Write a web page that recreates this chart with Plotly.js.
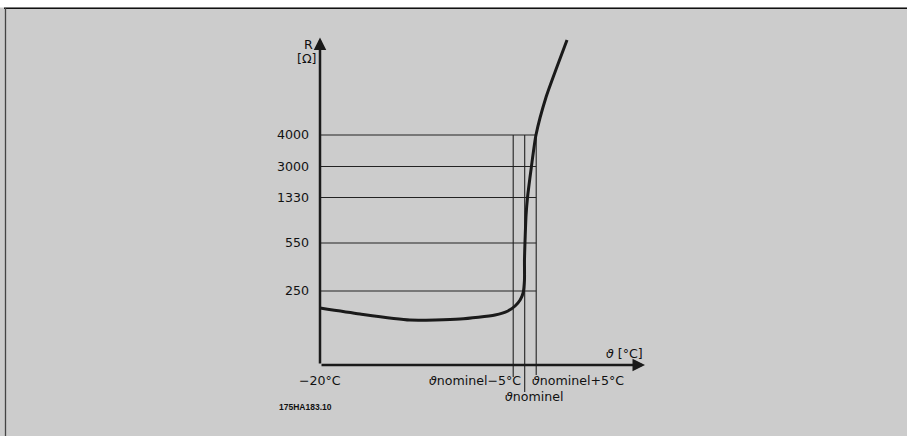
<!DOCTYPE html>
<html>
<head>
<meta charset="utf-8">
<script src="https://cdn.plot.ly/plotly-3.0.1.min.js"></script>
<style>
  html, body { margin: 0; padding: 0; background: #cccccc; }
  #chart { width: 907px; height: 436px; }
</style>
</head>
<body>
<div id="chart"></div>
<script>
// ---- data (schematic PTC thermistor characteristic) ----
const rTickLabels = ['250', '550', '1330', '3000', '4000'];
const rTickLevels = [74, 122, 167.5, 198.5, 230];      // schematic R-axis levels
const tempMin = -20;
const tempNominal = 69;                                 // schematic nominal temperature
const tempDelta = 5;
const tempLabels = ['\u221220\u00b0C', '<i>\u03d1</i>nominel\u22125\u00b0C', '<i>\u03d1</i>nominel', '<i>\u03d1</i>nominel+5\u00b0C'];
const curveTemp  = [-20, -2.6, 19.1, 40.9, 56.1, 61.7, 64.8, 67.0, 68.3, 68.9, 68.9, 69.1, 69.6, 70.2, 71.9, 73.9, 78.3, 83.0, 87.4];
const curveLevel = [57, 51, 45, 46, 50, 54, 59, 65, 72, 85, 105, 121, 150, 167, 198, 230, 268, 298, 325];

// ---- layout geometry ----
const L = 310, R = 257, T = 35, B = 36, W = 907, H = 436;
const PW = W - L - R, PH = H - T - B;
const pxX = p => (p - L) / PW;          // page pixel -> paper x
const pxY = q => (H - B - q) / PH;      // page pixel -> paper y

const xRange = [-24.35, 123.48];
const yRange = [-35, 330];
const xArrowEnd = 121.3, yArrowEnd = 327.5;
const ink = '#111111';
const font = {family: 'DejaVu Sans', size: 12.6, color: ink};

const tMinus = tempNominal - tempDelta, tPlus = tempNominal + tempDelta;
const topLevel = Math.max(...rTickLevels);

// horizontal reference lines
const hx = [], hy = [];
rTickLevels.forEach(v => { hx.push(tempMin, tPlus, null); hy.push(v, v, null); });
// vertical reference lines
const vx = [tMinus, tMinus, null, tempNominal, tempNominal, null, tPlus, tPlus];
const vy = [topLevel, -12, null, topLevel, -27, null, topLevel, -10];

const traces = [
  {x: hx, y: hy, mode: 'lines', line: {color: '#222222', width: 1.1}, hoverinfo: 'skip', showlegend: false},
  {x: vx, y: vy, mode: 'lines', line: {color: '#222222', width: 1.1}, hoverinfo: 'skip', showlegend: false},
  {x: curveTemp, y: curveLevel, mode: 'lines', line: {color: '#1a1a1a', width: 3, shape: 'spline', smoothing: 0.6},
   hoverinfo: 'skip', showlegend: false}
];

const annotations = [
  // axes with arrowheads
  {x: xArrowEnd, y: 0, ax: tempMin, ay: 0, xref: 'x', yref: 'y', axref: 'x', ayref: 'y',
   showarrow: true, arrowhead: 2, arrowsize: 1, arrowwidth: 2.5, arrowcolor: '#1a1a1a', text: '', standoff: 0},
  {x: tempMin, y: yArrowEnd, ax: tempMin, ay: 0, xref: 'x', yref: 'y', axref: 'x', ayref: 'y',
   showarrow: true, arrowhead: 2, arrowsize: 1, arrowwidth: 2.5, arrowcolor: '#1a1a1a', text: '', standoff: 0},
  // axis titles
  {x: tempMin, y: 321, xref: 'x', yref: 'y', text: 'R', showarrow: false, xanchor: 'right', xshift: -5, font: font},
  {x: tempMin, y: 307, xref: 'x', yref: 'y', text: '[\u03a9]', showarrow: false, xanchor: 'right', xshift: -2, font: font},
  {x: xArrowEnd, y: 12, xref: 'x', yref: 'y', text: '<i>\u03d1</i> [\u00b0C]', showarrow: false, xanchor: 'right', font: font},
  // temperature labels
  {x: tempMin, y: -15, xref: 'x', yref: 'y', text: tempLabels[0], showarrow: false, xanchor: 'center', font: font},
  {x: tMinus, y: -15, xref: 'x', yref: 'y', text: tempLabels[1], showarrow: false, xanchor: 'right', xshift: 10, font: font},
  {x: tempNominal, y: -31, xref: 'x', yref: 'y', text: tempLabels[2], showarrow: false, xanchor: 'left', xshift: -22, font: font},
  {x: tPlus, y: -15, xref: 'x', yref: 'y', text: tempLabels[3], showarrow: false, xanchor: 'left', xshift: -6, font: font},
  // drawing code
  {x: pxX(305), y: pxY(407), xref: 'paper', yref: 'paper', text: '<b>175HA183.10</b>', showarrow: false,
   xanchor: 'center', yanchor: 'middle', font: {family: 'Liberation Sans', size: 8.5, color: ink}}
];

const shapes = [
  {type: 'rect', xref: 'paper', yref: 'paper', x0: pxX(0), x1: pxX(W), y0: pxY(0), y1: pxY(7.5),
   fillcolor: '#ffffff', line: {width: 0}},
  {type: 'line', xref: 'paper', yref: 'paper', x0: pxX(4), x1: pxX(W), y0: pxY(8.3), y1: pxY(8.3),
   line: {color: '#111111', width: 1.6}},
  {type: 'line', xref: 'paper', yref: 'paper', x0: pxX(5.5), x1: pxX(5.5), y0: pxY(8), y1: pxY(H),
   line: {color: '#444444', width: 1.3}}
];

const layout = {
  width: W, height: H,
  margin: {l: L, r: R, t: T, b: B, pad: 0},
  paper_bgcolor: '#cccccc', plot_bgcolor: 'rgba(0,0,0,0)',
  xaxis: {range: xRange, showgrid: false, zeroline: false, showline: false, showticklabels: false, ticks: '', fixedrange: true},
  yaxis: {range: yRange, showgrid: false, zeroline: false, showline: false, ticks: '',
          tickmode: 'array', tickvals: rTickLevels, ticktext: rTickLabels, tickfont: font, fixedrange: true},
  showlegend: false,
  annotations: annotations,
  shapes: shapes
};

Plotly.newPlot('chart', traces, layout, {displayModeBar: false, staticPlot: true});
</script>
</body>
</html>
